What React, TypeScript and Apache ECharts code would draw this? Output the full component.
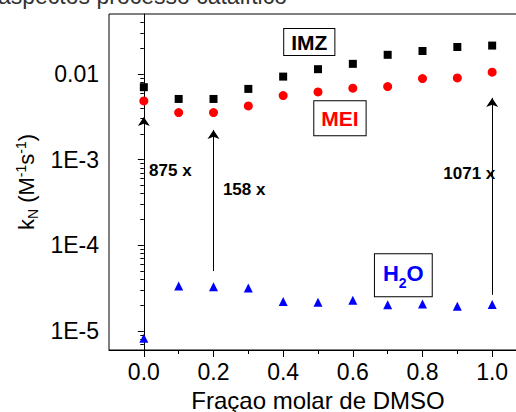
import React, { useEffect, useRef } from 'react';
import * as echarts from 'echarts';

const FONT = '"Liberation Sans", Arial, sans-serif';

// DMSO molar fraction
const fraction = [0, 0.1, 0.2, 0.3, 0.4, 0.5, 0.6, 0.7, 0.8, 0.9, 1.0];
// k_N values (M^-1 s^-1)
const imz = [0.0070, 0.0051, 0.0051, 0.00668, 0.0093, 0.01135, 0.0131, 0.0167, 0.0185, 0.0206, 0.0214];
const mei = [0.00484, 0.00354, 0.00354, 0.00423, 0.00558, 0.00616, 0.00681, 0.00711, 0.00881, 0.00898, 0.01047];
const h2o = [8.24e-6, 3.36e-5, 3.29e-5, 3.17e-5, 2.21e-5, 2.17e-5, 2.28e-5, 2.03e-5, 2.06e-5, 1.95e-5, 2.04e-5];

// arrows (rate enhancement) and their labels
const arrowX = [0, 0.2, 1.0];
const arrowFrom = [1.24e-5, 5.0e-5, 2.64e-5];
const arrowTo = [3.15e-3, 2.22e-3, 5.25e-3];
const ratioLabels = ['875 x', '158 x', '1071 x'];
const ratioLabelX = [0.015, 0.227, 1.009];
const ratioLabelY = [7.4e-4, 4.43e-4, 6.8e-4];

// series name boxes
const boxX = [0.475, 0.563, 0.745];
const boxY = [0.0235, 3.03e-3, 4.46e-5];

// ticks
const xTicks = [0, 0.2, 0.4, 0.6, 0.8, 1.0];
const xMinorTicks = [0.1, 0.3, 0.5, 0.7, 0.9];
const yTicks = [1e-5, 1e-4, 1e-3, 1e-2];
const yTickLabels = ['1E-5', '1E-4', '1E-3', '0.01'];
const yMinorTicks = [
  7e-6, 8e-6, 9e-6,
  2e-5, 3e-5, 4e-5, 5e-5, 6e-5, 7e-5, 8e-5, 9e-5,
  2e-4, 3e-4, 4e-4, 5e-4, 6e-4, 7e-4, 8e-4, 9e-4,
  2e-3, 3e-3, 4e-3, 5e-3, 6e-3, 7e-3, 8e-3, 9e-3,
  2e-2, 3e-2, 4e-2,
];

const X_MIN = -0.1;
const X_MAX = 1.1;
const Y_MIN = 6e-6;
const Y_MAX = 0.05;

export default function App() {
  const ref = useRef<HTMLDivElement>(null);

  useEffect(() => {
    if (!ref.current) return;
    const chart = echarts.init(ref.current, undefined, { renderer: 'svg' });

    const yLabel = (v: number) => {
      const i = yTicks.findIndex((t) => Math.abs(Math.log10(t) - Math.log10(v)) < 1e-6);
      return i >= 0 ? yTickLabels[i] : '';
    };

    const boxCommon = {
      show: true,
      position: 'inside',
      borderColor: '#000',
      borderWidth: 1,
      backgroundColor: '#fff',
      fontFamily: FONT,
      fontWeight: 'bold',
      fontSize: 21,
      opacity: 1,
    };

    const option: any = {
      animation: false,
      backgroundColor: '#fff',
      textStyle: { fontFamily: FONT },
      grid: {
        left: 109,
        top: 14,
        width: 418,
        height: 336,
        show: true,
        borderColor: '#000',
        borderWidth: 1,
        backgroundColor: 'transparent',
        outerBoundsMode: 'none',
      },
      graphic: [
        {
          type: 'group',
          left: -2,
          top: -16,
          silent: true,
          children: [
            {
              type: 'text',
              x: 0,
              y: 0,
              style: {
                text: 'aspectos processo catalítico',
                font: `23px ${FONT}`,
                fill: '#333',
              },
            },
          ],
        },
      ],
      xAxis: [
        {
          type: 'value',
          min: X_MIN,
          max: X_MAX,
          position: 'bottom',
          name: 'Fraçao molar de DMSO',
          nameLocation: 'middle',
          nameGap: 38,
          nameTextStyle: { fontSize: 24, color: '#000', fontFamily: FONT },
          axisLine: { show: true, lineStyle: { color: '#000', width: 1 } },
          axisTick: { show: true, inside: false, length: 7, customValues: xTicks, lineStyle: { color: '#000' } },
          axisLabel: {
            show: true,
            customValues: xTicks,
            formatter: (v: number) => v.toFixed(1),
            fontSize: 23,
            color: '#000',
            margin: 10,
            fontFamily: FONT,
          },
          splitLine: { show: false },
        },
        {
          type: 'value',
          min: X_MIN,
          max: X_MAX,
          position: 'bottom',
          offset: 0,
          axisLine: { show: false },
          axisTick: { show: true, inside: false, length: 4, customValues: xMinorTicks, lineStyle: { color: '#000' } },
          axisLabel: { show: false },
          splitLine: { show: false },
        },
      ],
      yAxis: [
        {
          type: 'log',
          logBase: 10,
          min: Y_MIN,
          max: Y_MAX,
          position: 'left',
          name: '{n|k}{sub|N}{n| (M}{sup|-1}{n|s}{sup|-1}{n|)}',
          nameLocation: 'middle',
          nameGap: 66,
          nameRotate: 90,
          nameTextStyle: {
            color: '#000',
            fontFamily: FONT,
            fontSize: 22,
            rich: {
              n: { fontSize: 22, color: '#000', fontFamily: FONT, lineHeight: 26 },
              sub: { fontSize: 14, color: '#000', fontFamily: FONT, lineHeight: 14, verticalAlign: 'bottom' },
              sup: { fontSize: 14, color: '#000', fontFamily: FONT, lineHeight: 14, verticalAlign: 'top' },
            },
          },
          axisLine: { show: true, lineStyle: { color: '#000', width: 1 } },
          axisTick: { show: true, inside: false, length: 6, customValues: yTicks, lineStyle: { color: '#000' } },
          axisLabel: {
            show: true,
            customValues: yTicks,
            formatter: yLabel,
            fontSize: 23,
            color: '#000',
            margin: 10,
            fontFamily: FONT,
          },
          splitLine: { show: false },
          minorTick: { show: false },
        },
        {
          type: 'log',
          logBase: 10,
          min: Y_MIN,
          max: Y_MAX,
          position: 'left',
          offset: 0,
          axisLine: { show: false },
          axisTick: { show: true, inside: false, length: 3.5, customValues: yMinorTicks, lineStyle: { color: '#000' } },
          axisLabel: { show: false },
          splitLine: { show: false },
        },
      ],
      series: [
        {
          name: 'IMZ',
          type: 'scatter',
          symbol: 'rect',
          symbolSize: 8,
          itemStyle: { color: '#000', opacity: 1 },
          data: fraction.map((x, i) => [x, imz[i]]),
        },
        {
          name: 'MEI',
          type: 'scatter',
          symbol: 'circle',
          symbolSize: 9,
          itemStyle: { color: '#ff0000', opacity: 1 },
          data: fraction.map((x, i) => [x, mei[i]]),
        },
        {
          name: 'H2O',
          type: 'scatter',
          symbol: 'triangle',
          symbolSize: 9,
          itemStyle: { color: '#0000ff', opacity: 1 },
          data: fraction.map((x, i) => [x, h2o[i]]),
        },
        {
          name: 'arrows',
          type: 'lines',
          coordinateSystem: 'cartesian2d',
          symbol: ['none', 'arrow'],
          symbolSize: [5, 9],
          lineStyle: { color: '#000', width: 1, opacity: 1 },
          silent: true,
          data: arrowX.map((x, i) => ({ coords: [[x, arrowFrom[i]], [x, arrowTo[i]]] })),
        },
        {
          name: 'ratios',
          type: 'scatter',
          symbolSize: 0,
          silent: true,
          itemStyle: { opacity: 1 },
          data: ratioLabels.map((t, i) => ({
            value: [ratioLabelX[i], ratioLabelY[i]],
            label: {
              show: true,
              formatter: t,
              position: i === 2 ? 'left' : 'right',
              distance: 0,
              color: '#000',
              opacity: 1,
              fontFamily: FONT,
              fontWeight: 'bold',
              fontSize: 17,
            },
          })),
        },
        {
          name: 'boxes',
          type: 'scatter',
          symbolSize: 0,
          silent: true,
          itemStyle: { opacity: 1 },
          data: [
            {
              value: [boxX[0], boxY[0]],
              label: { ...boxCommon, formatter: 'IMZ', color: '#000', padding: [3, 7, 2, 7] },
            },
            {
              value: [boxX[1], boxY[1]],
              label: { ...boxCommon, formatter: 'MEI', color: '#ff0000', padding: [7, 7, 6, 7] },
            },
            {
              value: [boxX[2], boxY[2]],
              label: {
                ...boxCommon,
                formatter: '{b|H}{s|2}{b|O}',
                color: '#0000ff',
                padding: [8, 8, 6, 8],
                rich: {
                  b: { fontSize: 22, fontWeight: 'bold', color: '#0000ff', fontFamily: FONT, lineHeight: 28, verticalAlign: 'top' },
                  s: { fontSize: 14, fontWeight: 'bold', color: '#0000ff', fontFamily: FONT, lineHeight: 14, verticalAlign: 'bottom' },
                },
              },
            },
          ],
        },
      ],
    };

    chart.setOption(option);
    return () => chart.dispose();
  }, []);

  return (
    <div
      ref={ref}
      style={{ position: 'absolute', left: 0, top: 0, width: 516, height: 412, overflow: 'hidden' }}
    />
  );
}
